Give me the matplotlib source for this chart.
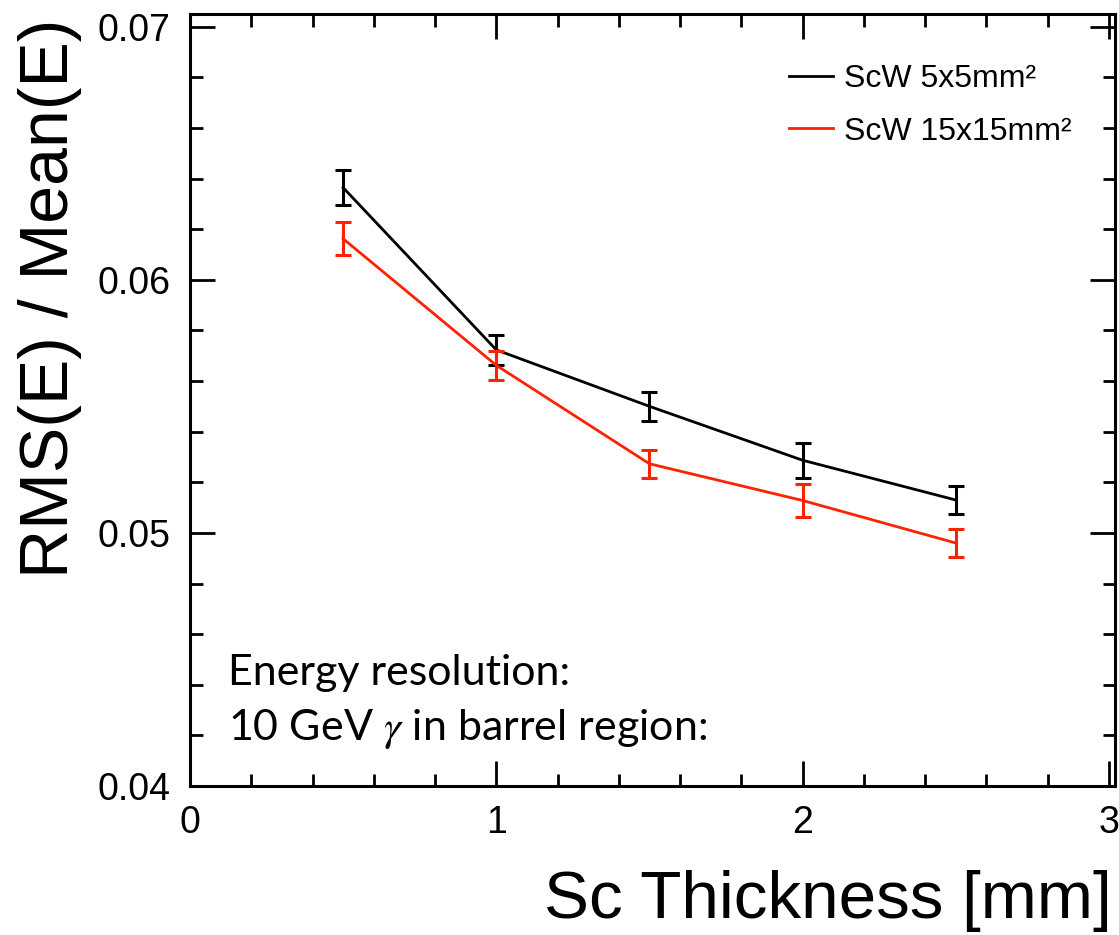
import matplotlib
matplotlib.use("Agg")
from matplotlib import pyplot as plt
from matplotlib.ticker import MultipleLocator

# Sc thickness [mm]
thickness = [0.5, 1.0, 1.5, 2.0, 2.5]

# ScW 5x5 mm^2
res_5x5 = [0.06364, 0.05723, 0.05500, 0.05287, 0.05130]
err_5x5 = [0.00069, 0.00060, 0.00057, 0.00069, 0.00055]

# ScW 15x15 mm^2
res_15x15 = [0.06162, 0.05662, 0.05273, 0.05128, 0.04960]
err_15x15 = [0.00065, 0.00057, 0.00055, 0.00065, 0.00055]

labels = ['ScW 5x5mm²', 'ScW 15x15mm²']
colors = ['black', '#ff2200']

plt.rcParams['font.family'] = ['Liberation Sans', 'DejaVu Sans']
plt.rcParams['mathtext.fontset'] = 'stix'

fig = plt.figure(figsize=(11.19, 9.35), dpi=100)
ax = fig.add_axes([190 / 1119, 1 - 786 / 935, 925 / 1119, 772 / 935])

for ys, es, lab, col in zip([res_5x5, res_15x15], [err_5x5, err_15x15], labels, colors):
    ax.plot(thickness, ys, color=col, lw=2.0, label=lab)
    ax.errorbar(thickness, ys, yerr=es, fmt='none', ecolor=col,
                elinewidth=2.2, capsize=6, capthick=2.2)

ax.set_xlim(0, 3.02)
ax.set_ylim(0.04, 0.0705)
ax.xaxis.set_major_locator(MultipleLocator(1))
ax.xaxis.set_minor_locator(MultipleLocator(0.2))
ax.yaxis.set_major_locator(MultipleLocator(0.01))
ax.yaxis.set_minor_locator(MultipleLocator(0.002))
ax.xaxis.set_major_formatter(plt.FuncFormatter(lambda v, p: f'{v:g}'))
ax.yaxis.set_major_formatter(plt.FuncFormatter(lambda v, p: f'{v:.2f}'))

for s in ax.spines.values():
    s.set_linewidth(2.2)
ax.tick_params(which='both', direction='in', top=True, right=True, width=2.0)
ax.tick_params(which='major', length=18, labelsize=27, pad=14)
ax.tick_params(which='minor', length=9)

fig.text(50 / 1119, 1 - 19 / 935, 'RMS(E) / Mean(E)', rotation=90,
         ha='center', va='top', fontsize=49)
fig.text(1112 / 1119, 1 - 918 / 935, 'Sc Thickness [mm]',
         ha='right', va='baseline', fontsize=48.5)

ax.text(0.124, 0.04399, 'Energy resolution:', family=['Lato', 'DejaVu Sans'],
        fontsize=31, va='baseline')
ax.text(0.124, 0.04182, r'10 GeV $\gamma$ in barrel region:',
        family=['Lato', 'DejaVu Sans'], fontsize=31, va='baseline')

ax.legend(loc='upper left', bbox_to_anchor=(0.648, 0.935), frameon=False,
          fontsize=23, handlelength=1.35, handletextpad=0.35,
          labelspacing=0.7, borderpad=0, borderaxespad=0)

fig.savefig('out.png', dpi=100)
